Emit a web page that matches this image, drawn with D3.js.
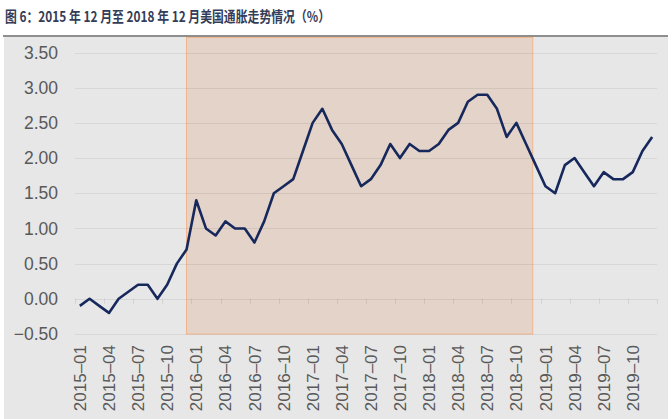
<!DOCTYPE html>
<html><head><meta charset="utf-8">
<script src="https://cdn.jsdelivr.net/npm/d3@7"></script>
<style>
body{margin:0;background:#fff;}
svg{display:block;}
</style></head>
<body>
<svg id="c" width="672" height="419"></svg>
<script>
const title = "图 6：2015 年 12 月至 2018 年 12 月美国通胀走势情况（%）";
const months = [];
const years = [2015, 2016, 2017, 2018, 2019];
years.forEach(y => { for (let m = 1; m <= 12; m++) months.push(y + "-" + String(m).padStart(2, "0")); });
const cpi = [
  -0.1, 0.0, -0.1, -0.2, 0.0, 0.1, 0.2, 0.2, 0.0, 0.2, 0.5, 0.7,
  1.4, 1.0, 0.9, 1.1, 1.0, 1.0, 0.8, 1.1, 1.5, 1.6, 1.7, 2.1,
  2.5, 2.7, 2.4, 2.2, 1.9, 1.6, 1.7, 1.9, 2.2, 2.0, 2.2, 2.1,
  2.1, 2.2, 2.4, 2.5, 2.8, 2.9, 2.9, 2.7, 2.3, 2.5, 2.2, 1.9,
  1.6, 1.5, 1.9, 2.0, 1.8, 1.6, 1.8, 1.7, 1.7, 1.8, 2.1, 2.3
];
const yTicks = [-0.5, 0, 0.5, 1.0, 1.5, 2.0, 2.5, 3.0, 3.5];
const shadeStart = "2015-12";
const shadeEnd = "2018-12";
const labelEvery = 3;

const svg = d3.select("#c");
// title
svg.append("text").attr("x", 5).attr("y", 22)
  .attr("font-family", "'Noto Sans CJK SC', sans-serif")
  .attr("font-weight", "bold").attr("font-size", 14.5)
  .attr("textLength", 325).attr("lengthAdjust", "spacingAndGlyphs")
  .attr("fill", "#333c58").text(title);
// background panel
svg.append("rect").attr("x", 4).attr("y", 37).attr("width", 664).attr("height", 382).attr("fill", "#e7e7e7");
svg.append("line").attr("x1", 3).attr("x2", 668).attr("y1", 36).attr("y2", 36)
  .attr("stroke", "#8e8e8e").attr("stroke-width", 2);

const x = d3.scaleBand().domain(months).range([75, 657]).padding(0);
const cx = d => x(d) + x.bandwidth() / 2;
const y = d3.scaleLinear().domain([-0.5, 3.5]).range([334, 52.5]);

// shaded period
svg.append("rect")
  .attr("x", cx(shadeStart)).attr("y", 37.5)
  .attr("width", cx(shadeEnd) - cx(shadeStart) - 3)
  .attr("height", y(-0.5) - 37.5)
  .attr("fill", "#e3d3c8").attr("stroke", "#f3b48a").attr("stroke-width", 1);

// gridlines
svg.append("g").selectAll("line").data(yTicks).join("line")
  .attr("x1", 75).attr("x2", 657)
  .attr("y1", d => Math.round(y(d)) + 0.5).attr("y2", d => Math.round(y(d)) + 0.5)
  .attr("stroke", "rgba(0,0,0,0.065)").attr("stroke-width", 1);

// y axis labels
const yAxis = d3.axisLeft(y).tickValues(yTicks).tickFormat(d3.format(".2f")).tickSize(0).tickPadding(17);
const ga = svg.append("g").attr("transform", "translate(75,0)").call(yAxis);
ga.select(".domain").remove();
ga.selectAll("text").attr("font-family", "'Liberation Sans', Arial, sans-serif")
  .attr("font-size", 17.5).attr("fill", "#595959");

// x ticks at zero line
const tickIdx = months.map((m, i) => i).filter(i => i % labelEvery === 0);
const tickX = tickIdx.map(i => x(months[i])).concat([x.range()[1]]);
svg.append("g").selectAll("line").data(tickX).join("line")
  .attr("x1", d => Math.round(d) + 0.5).attr("x2", d => Math.round(d) + 0.5)
  .attr("y1", y(0)).attr("y2", y(0) + 5)
  .attr("stroke", "rgba(0,0,0,0.08)").attr("stroke-width", 1);

// x labels
svg.append("g").selectAll("text").data(tickIdx.map(i => months[i])).join("text")
  .attr("transform", d => `translate(${cx(d)},345) rotate(-90)`)
  .attr("text-anchor", "end").attr("dy", "0.36em")
  .attr("font-family", "'Liberation Sans', Arial, sans-serif")
  .attr("font-size", 17).attr("fill", "#595959")
  .text(d => d.replace("-", "–"));

// line
const line = d3.line().x((d, i) => cx(months[i])).y(d => y(d));
svg.append("path").datum(cpi).attr("d", line)
  .attr("fill", "none").attr("stroke", "#16285c").attr("stroke-width", 2.6)
  .attr("stroke-linejoin", "round");
</script>
</body></html>
